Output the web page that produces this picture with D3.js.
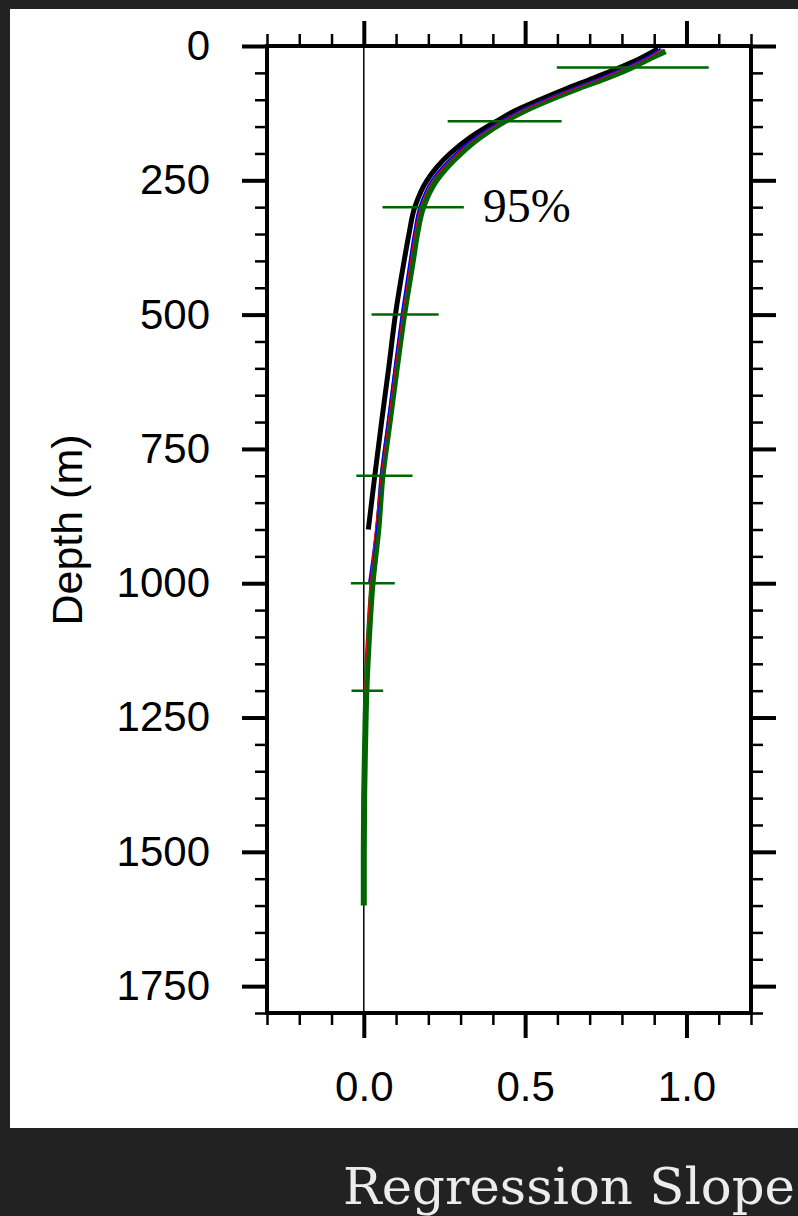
<!DOCTYPE html>
<html>
<head>
<meta charset="utf-8">
<script src="https://cdn.jsdelivr.net/npm/d3@7"></script>
<style>
  html, body { margin: 0; padding: 0; background: #222222; }
  svg { display: block; }
</style>
</head>
<body>
<svg width="798" height="1216"></svg>
<script>
// depth levels (m) for each profile
const depthLevels = [5, 25, 40, 60, 80, 100, 120, 140, 170, 200, 250, 300, 350, 400, 500, 600, 700, 800, 900, 1000, 1100, 1200, 1300, 1400, 1500, 1600];
const greenDepths = [10, 25, 40, 60, 80, 100, 120, 140, 170, 200, 250, 300, 350, 400, 500, 600, 700, 800, 900, 1000, 1100, 1200, 1300, 1400, 1500, 1600];

// regression slope profiles
const blackSlope = [0.912, 0.85, 0.793, 0.71, 0.625, 0.545, 0.47, 0.411, 0.33, 0.268, 0.196, 0.158, 0.14, 0.125, 0.098, 0.077, 0.055, 0.034, 0.014];
const greenSlope = [0.935, 0.88, 0.83, 0.75, 0.66, 0.576, 0.50, 0.437, 0.36, 0.30, 0.225, 0.184, 0.165, 0.152, 0.125, 0.102, 0.08, 0.058, 0.045, 0.027, 0.016, 0.008, 0.004, 0.001, 0.0, 0.0];
const blueSlope = [0.92, 0.865, 0.81, 0.73, 0.645, 0.562, 0.486, 0.425, 0.345, 0.285, 0.21, 0.172, 0.155, 0.142, 0.117, 0.095, 0.074, 0.053, 0.038, 0.016];
const redSlope = [0.925, 0.87, 0.815, 0.735, 0.65, 0.566, 0.49, 0.43, 0.35, 0.29, 0.214, 0.176, 0.158, 0.145, 0.12, 0.097, 0.076, 0.054, 0.036, 0.02, 0.01, 0.003];

// 95% ranges
const errDepth = [40, 140, 300, 500, 800, 1000, 1200];
const errLow = [0.598, 0.260, 0.058, 0.024, -0.023, -0.040, -0.038];
const errHigh = [1.069, 0.613, 0.310, 0.232, 0.151, 0.096, 0.060];

const xMajorTicks = [0, 0.5, 1.0];
const xMinorTicks = [-0.3, -0.2, -0.1, 0, 0.1, 0.2, 0.3, 0.4, 0.5, 0.6, 0.7, 0.8, 0.9, 1.0, 1.1, 1.2];
const yMajorTicks = [0, 250, 500, 750, 1000, 1250, 1500, 1750];
const yMinorTicks = d3.range(0, 1801, 50);

const svg = d3.select('svg');
const fontSans = 'Liberation Sans, Arial, Helvetica, sans-serif';

// white panel
svg.append('rect')
  .attr('x', 10).attr('y', 9)
  .attr('width', 788).attr('height', 1119)
  .attr('fill', '#ffffff');

const frame = { left: 267, right: 751, top: 46, bottom: 1013 };

const x = d3.scaleLinear().domain([-0.3, 1.2]).range([frame.left, frame.right]);
const y = d3.scaleLinear().domain([0, 1800]).range([frame.top, frame.bottom]);

const g = svg.append('g');

// zero reference line
g.append('line')
  .attr('x1', x(0)).attr('x2', x(0))
  .attr('y1', y(0)).attr('y2', y(1800))
  .attr('stroke', '#000').attr('stroke-width', 1.5);

// profiles
const pairs = (ds, vs) => vs.map((v, i) => ({ d: ds[i], v: v }));
const line = d3.line()
  .x(p => x(p.v))
  .y(p => y(p.d))
  .curve(d3.curveMonotoneY);

const series = [
  { vals: pairs(depthLevels, blackSlope), color: '#000000', w: 5 },
  { vals: pairs(greenDepths, greenSlope), color: '#006400', w: 6 },
  { vals: pairs(depthLevels, blueSlope), color: '#0000ff', w: 2 },
  { vals: pairs(depthLevels, redSlope), color: '#ff0000', w: 1 }
];

series.forEach(s => {
  g.append('path')
    .datum(s.vals)
    .attr('fill', 'none')
    .attr('stroke', s.color)
    .attr('stroke-width', s.w)
    .attr('d', line);
});

// error bars
g.selectAll('.err')
  .data(errDepth)
  .enter().append('line')
  .attr('class', 'err')
  .attr('x1', (d, i) => x(errLow[i]))
  .attr('x2', (d, i) => x(errHigh[i]))
  .attr('y1', d => y(d))
  .attr('y2', d => y(d))
  .attr('stroke', '#006400')
  .attr('stroke-width', 2.5);

// 95% label next to the 300 m bar
g.append('text')
  .attr('x', x(errHigh[2]) + 19)
  .attr('y', y(errDepth[2]) + 15)
  .attr('font-family', 'Liberation Serif, Times New Roman, serif')
  .attr('font-size', 48)
  .attr('fill', '#000')
  .text('95%');

// frame
g.append('rect')
  .attr('x', frame.left).attr('y', frame.top)
  .attr('width', frame.right - frame.left)
  .attr('height', frame.bottom - frame.top)
  .attr('fill', 'none')
  .attr('stroke', '#000')
  .attr('stroke-width', 4);

function styleAxis(sel, w) {
  sel.select('.domain').remove();
  sel.selectAll('.tick line').attr('stroke', '#000').attr('stroke-width', w);
  sel.selectAll('text')
    .attr('font-family', fontSans)
    .attr('font-size', 42)
    .attr('fill', '#000');
}

// left
g.append('g').attr('transform', `translate(${frame.left},0)`)
  .call(d3.axisLeft(y).tickValues(yMinorTicks).tickSize(12).tickFormat(''))
  .call(s => styleAxis(s, 2.5));
g.append('g').attr('transform', `translate(${frame.left},0)`)
  .call(d3.axisLeft(y).tickValues(yMajorTicks).tickSize(25).tickPadding(32).tickFormat(d3.format('d')))
  .call(s => styleAxis(s, 4));

// right
g.append('g').attr('transform', `translate(${frame.right},0)`)
  .call(d3.axisRight(y).tickValues(yMinorTicks).tickSize(12).tickFormat(''))
  .call(s => styleAxis(s, 2.5));
g.append('g').attr('transform', `translate(${frame.right},0)`)
  .call(d3.axisRight(y).tickValues(yMajorTicks).tickSize(25).tickFormat(''))
  .call(s => styleAxis(s, 4));

// bottom
g.append('g').attr('transform', `translate(0,${frame.bottom})`)
  .call(d3.axisBottom(x).tickValues(xMinorTicks).tickSize(12).tickFormat(''))
  .call(s => styleAxis(s, 2.5));
g.append('g').attr('transform', `translate(0,${frame.bottom})`)
  .call(d3.axisBottom(x).tickValues(xMajorTicks).tickSize(25).tickPadding(33).tickFormat(d3.format('.1f')))
  .call(s => styleAxis(s, 4));

// top
g.append('g').attr('transform', `translate(0,${frame.top})`)
  .call(d3.axisTop(x).tickValues(xMinorTicks).tickSize(12).tickFormat(''))
  .call(s => styleAxis(s, 2.5));
g.append('g').attr('transform', `translate(0,${frame.top})`)
  .call(d3.axisTop(x).tickValues(xMajorTicks).tickSize(25).tickFormat(''))
  .call(s => styleAxis(s, 4));

// y axis title
svg.append('text')
  .attr('transform', 'translate(82,530) rotate(-90)')
  .attr('text-anchor', 'middle')
  .attr('font-family', fontSans)
  .attr('font-size', 43)
  .attr('fill', '#000')
  .text('Depth (m)');

// caption below panel
svg.append('text')
  .attr('x', 343)
  .attr('y', 1204)
  .attr('font-family', 'DejaVu Serif, serif')
  .attr('font-size', 51)
  .attr('textLength', 452)
  .attr('lengthAdjust', 'spacingAndGlyphs')
  .attr('fill', '#ececec')
  .text('Regression Slope');
</script>
</body>
</html>
